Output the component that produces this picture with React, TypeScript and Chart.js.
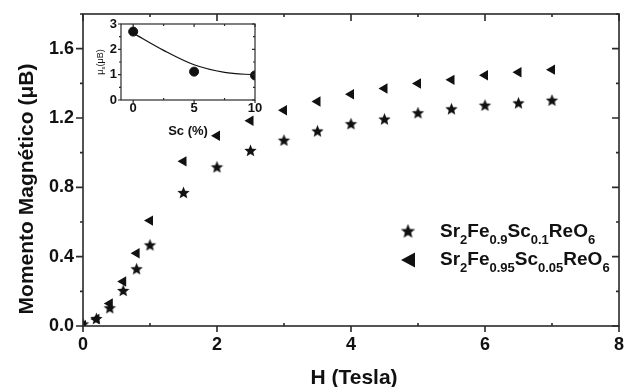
import React, { useEffect, useRef } from "react";
import { Chart, registerables } from "chart.js";
Chart.register(...registerables);

// ---------- data ----------
const fieldT = [0, 0.2, 0.4, 0.6, 0.8, 1.0, 1.5, 2, 2.5, 3, 3.5, 4, 4.5, 5, 5.5, 6, 6.5, 7];
const momentSc10 = [0.012, 0.043, 0.105, 0.205, 0.33, 0.468, 0.77, 0.918, 1.013, 1.072, 1.125, 1.167, 1.194, 1.23, 1.253, 1.274, 1.287, 1.303];
const momentSc05 = [0.005, 0.04, 0.13, 0.257, 0.42, 0.608, 0.95, 1.098, 1.184, 1.245, 1.295, 1.337, 1.37, 1.399, 1.42, 1.447, 1.464, 1.479];

const xTicksMain = [0, 1, 2, 3, 4, 5, 6, 7, 8];
const xLabelsMain = ["0", "", "2", "", "4", "", "6", "", "8"];
const yTicksMain = [0, 0.2, 0.4, 0.6, 0.8, 1.0, 1.2, 1.4, 1.6, 1.8];
const yLabelsMain = ["0.0", "", "0.4", "", "0.8", "", "1.2", "", "1.6", ""];

const scPct = [0, 5, 10];
const muS = [2.7, 1.12, 0.97];
const fitSc = [0, 2.5, 5, 7.5, 10];
const fitMu = [2.64, 1.96, 1.39, 1.09, 0.99];

const xTicksInset = [0, 2.5, 5, 7.5, 10];
const xLabelsInset = ["0", "", "5", "", "10"];
const yTicksInset = [0, 0.5, 1, 1.5, 2, 2.5, 3];
const yLabelsInset = ["0", "", "1", "", "2", "", "3"];

const legendSc10 = [["Sr", 0], ["2", 1], ["Fe", 0], ["0.9", 1], ["Sc", 0], ["0.1", 1], ["ReO", 0], ["6", 1]] as [string, number][];
const legendSc05 = [["Sr", 0], ["2", 1], ["Fe", 0], ["0.95", 1], ["Sc", 0], ["0.05", 1], ["ReO", 0], ["6", 1]] as [string, number][];

const FONT = "'Liberation Sans', Arial, sans-serif";
const INK = "#111";
const AXIS = "#2a2a2a";

function makeStar(r: number, color: string) {
  const c = document.createElement("canvas");
  const s = Math.ceil(r * 2 + 2);
  c.width = s;
  c.height = s;
  const g = c.getContext("2d")!;
  g.fillStyle = color;
  g.beginPath();
  for (let k = 0; k < 10; k++) {
    const rad = k % 2 === 0 ? r : r * 0.44;
    const a = -Math.PI / 2 + (k * Math.PI) / 5;
    g.lineTo(s / 2 + rad * Math.cos(a), s / 2 + rad * Math.sin(a) + r * 0.08);
  }
  g.closePath();
  g.fill();
  return c;
}

function zeroPad(s: any) {
  s.paddingTop = 0;
  s.paddingBottom = 0;
  s.paddingLeft = 0;
  s.paddingRight = 0;
}

type Side = { out: boolean; major: number; minor: number };
function framePlugin(id: string, lw: number, sides: { bottom: Side; top: Side; left: Side; right: Side }) {
  return {
    id,
    afterDatasetsDraw(chart: any) {
      const { ctx, chartArea: a, scales } = chart;
      const xs = scales.x, ys = scales.y;
      ctx.save();
      ctx.strokeStyle = AXIS;
      ctx.lineWidth = lw;
      ctx.strokeRect(a.left, a.top, a.right - a.left, a.bottom - a.top);
      ctx.beginPath();
      xs.ticks.forEach((t: any) => {
        const px = xs.getPixelForValue(t.value);
        const major = t.label !== "";
        const b = sides.bottom, tp = sides.top;
        const lb = major ? b.major : b.minor;
        ctx.moveTo(px, a.bottom);
        ctx.lineTo(px, a.bottom + (b.out ? lb : -lb));
        const lt = major ? tp.major : tp.minor;
        ctx.moveTo(px, a.top);
        ctx.lineTo(px, a.top + (tp.out ? -lt : lt));
      });
      ys.ticks.forEach((t: any) => {
        const py = ys.getPixelForValue(t.value);
        const major = t.label !== "";
        const l = sides.left, r = sides.right;
        const ll = major ? l.major : l.minor;
        ctx.moveTo(a.left, py);
        ctx.lineTo(a.left + (l.out ? -ll : ll), py);
        const lr = major ? r.major : r.minor;
        ctx.moveTo(a.right, py);
        ctx.lineTo(a.right + (r.out ? lr : -lr), py);
      });
      ctx.stroke();
      ctx.restore();
    },
  };
}

function drawFormula(ctx: CanvasRenderingContext2D, parts: [string, number][], x: number, y: number, big: number, small: number, drop: number) {
  let cx = x;
  ctx.textAlign = "left";
  ctx.textBaseline = "alphabetic";
  for (const [txt, sub] of parts) {
    ctx.font = `bold ${sub ? small : big}px ${FONT}`;
    ctx.fillText(txt, cx, sub ? y + drop : y);
    cx += ctx.measureText(txt).width;
  }
}

export default function App() {
  const mainRef = useRef<HTMLCanvasElement>(null);
  const insetRef = useRef<HTMLCanvasElement>(null);

  useEffect(() => {
    document.body.style.margin = "0";
    const star = makeStar(6.5, INK);
    const starBig = makeStar(7.5, INK);

    const mainExtras = {
      id: "mainExtras",
      afterDraw(chart: any) {
        const ctx = chart.ctx as CanvasRenderingContext2D;
        ctx.save();
        ctx.fillStyle = INK;
        ctx.font = `bold 21px ${FONT}`;
        ctx.textAlign = "center";
        ctx.textBaseline = "alphabetic";
        ctx.fillText("H (Tesla)", 354, 384);
        ctx.save();
        ctx.translate(33, 189);
        ctx.rotate(-Math.PI / 2);
        ctx.fillText("Momento Magnético (\u03BCB)", 0, 0);
        ctx.restore();
        // legend
        ctx.drawImage(starBig, 408 - starBig.width / 2, 231 - starBig.height / 2);
        ctx.beginPath();
        ctx.moveTo(401, 260);
        ctx.lineTo(415, 252.5);
        ctx.lineTo(415, 267.5);
        ctx.closePath();
        ctx.fill();
        drawFormula(ctx, legendSc10, 440, 237, 19, 13, 7);
        drawFormula(ctx, legendSc05, 440, 265, 19, 13, 7);
        ctx.restore();
      },
    };

    const tickFont = { family: FONT, size: 18, weight: "bold" as const };
    const main = new Chart(mainRef.current!, {
      type: "scatter",
      data: {
        datasets: [
          {
            label: "Sr2Fe0.95Sc0.05ReO6",
            data: fieldT.map((x, i) => ({ x, y: momentSc05[i] })),
            pointStyle: "triangle",
            rotation: -90,
            radius: 6,
            backgroundColor: INK,
            borderColor: INK,
            borderWidth: 0,
          } as any,
          {
            label: "Sr2Fe0.9Sc0.1ReO6",
            data: fieldT.map((x, i) => ({ x, y: momentSc10[i] })),
            pointStyle: star,
            radius: 6,
            backgroundColor: INK,
            borderColor: INK,
          } as any,
        ],
      },
      options: {
        responsive: false,
        animation: false,
        devicePixelRatio: 1,
        layout: { padding: { left: 0, right: 9, top: 14, bottom: 0 } },
        plugins: { legend: { display: false }, tooltip: { enabled: false } },
        scales: {
          x: {
            type: "linear",
            min: 0,
            max: 8,
            afterBuildTicks: (s: any) => { s.ticks = xTicksMain.map((v) => ({ value: v })); },
            afterFit: (s: any) => { s.height = 61; zeroPad(s); },
            grid: { display: false, drawTicks: false },
            border: { display: false },
            ticks: { callback: (_v: any, i: number) => xLabelsMain[i], font: tickFont, color: INK, padding: 8, maxRotation: 0, autoSkip: false },
          },
          y: {
            type: "linear",
            min: 0,
            max: 1.8,
            afterBuildTicks: (s: any) => { s.ticks = yTicksMain.map((v) => ({ value: v })); },
            afterFit: (s: any) => { s.width = 83; zeroPad(s); },
            grid: { display: false, drawTicks: false },
            border: { display: false },
            ticks: { callback: (_v: any, i: number) => yLabelsMain[i], font: tickFont, color: INK, padding: 9, autoSkip: false },
          },
        },
      } as any,
      plugins: [
        framePlugin("mainFrame", 1.6, {
          bottom: { out: true, major: 6, minor: -3 },
          top: { out: false, major: 7, minor: 3 },
          left: { out: true, major: 7, minor: 3 },
          right: { out: false, major: 7, minor: 3 },
        }),
        mainExtras,
      ],
    });

    const insetExtras = {
      id: "insetExtras",
      afterDraw(chart: any) {
        const ctx = chart.ctx as CanvasRenderingContext2D;
        ctx.save();
        ctx.fillStyle = INK;
        ctx.font = `bold 13px ${FONT}`;
        ctx.textAlign = "center";
        ctx.textBaseline = "alphabetic";
        ctx.fillText("Sc (%)", 188, 135);
        ctx.save();
        ctx.translate(103, 62);
        ctx.rotate(-Math.PI / 2);
        ctx.font = `9px ${FONT}`;
        const w1 = ctx.measureText("\u03BC").width;
        ctx.font = `6px ${FONT}`;
        const w2 = ctx.measureText("s").width;
        ctx.font = `9px ${FONT}`;
        const w3 = ctx.measureText("(\u03BCB)").width;
        const total = w1 + w2 + w3;
        let cx = -total / 2;
        ctx.textAlign = "left";
        ctx.fillText("\u03BC", cx, 0);
        cx += w1;
        ctx.font = `6px ${FONT}`;
        ctx.fillText("s", cx, 2);
        cx += w2;
        ctx.font = `9px ${FONT}`;
        ctx.fillText("(\u03BCB)", cx, 0);
        ctx.restore();
        ctx.restore();
      },
    };

    const insetFont = { family: FONT, size: 13, weight: "bold" as const };
    const inset = new Chart(insetRef.current!, {
      type: "scatter",
      data: {
        datasets: [
          {
            data: fitSc.map((x, i) => ({ x, y: fitMu[i] })),
            showLine: true,
            pointRadius: 0,
            borderColor: INK,
            borderWidth: 1.2,
            cubicInterpolationMode: "monotone",
            fill: false,
          } as any,
          {
            data: scPct.map((x, i) => ({ x, y: muS[i] })),
            pointRadius: 4.5,
            pointStyle: "circle",
            backgroundColor: INK,
            borderColor: INK,
          } as any,
        ],
      },
      options: {
        responsive: false,
        animation: false,
        devicePixelRatio: 1,
        layout: { padding: { left: 0, right: 373, top: 24, bottom: 0 } },
        plugins: { legend: { display: false }, tooltip: { enabled: false } },
        scales: {
          x: {
            type: "linear",
            min: -1,
            max: 10,
            afterBuildTicks: (s: any) => { s.ticks = xTicksInset.map((v) => ({ value: v })); },
            afterFit: (s: any) => { s.height = 287; zeroPad(s); },
            grid: { display: false, drawTicks: false },
            border: { display: false },
            ticks: { callback: (_v: any, i: number) => xLabelsInset[i], font: insetFont, color: INK, padding: 1, maxRotation: 0, autoSkip: false },
          },
          y: {
            type: "linear",
            min: 0,
            max: 3,
            afterBuildTicks: (s: any) => { s.ticks = yTicksInset.map((v) => ({ value: v })); },
            afterFit: (s: any) => { s.width = 121; zeroPad(s); },
            grid: { display: false, drawTicks: false },
            border: { display: false },
            ticks: { callback: (_v: any, i: number) => yLabelsInset[i], font: insetFont, color: INK, padding: 4, autoSkip: false },
          },
        },
      } as any,
      plugins: [
        framePlugin("insetFrame", 1.2, {
          bottom: { out: true, major: 3, minor: -2 },
          top: { out: false, major: 3, minor: 2 },
          left: { out: true, major: 3, minor: 2 },
          right: { out: false, major: 3, minor: 2 },
        }),
        insetExtras,
      ],
    });

    return () => {
      main.destroy();
      inset.destroy();
    };
  }, []);

  return (
    <div style={{ position: "fixed", left: 0, top: 0, width: 628, height: 387, background: "#fff" }}>
      <canvas ref={mainRef} width={628} height={387} style={{ position: "absolute", left: 0, top: 0, width: 628, height: 387 }} />
      <canvas ref={insetRef} width={628} height={387} style={{ position: "absolute", left: 0, top: 0, width: 628, height: 387 }} />
    </div>
  );
}
